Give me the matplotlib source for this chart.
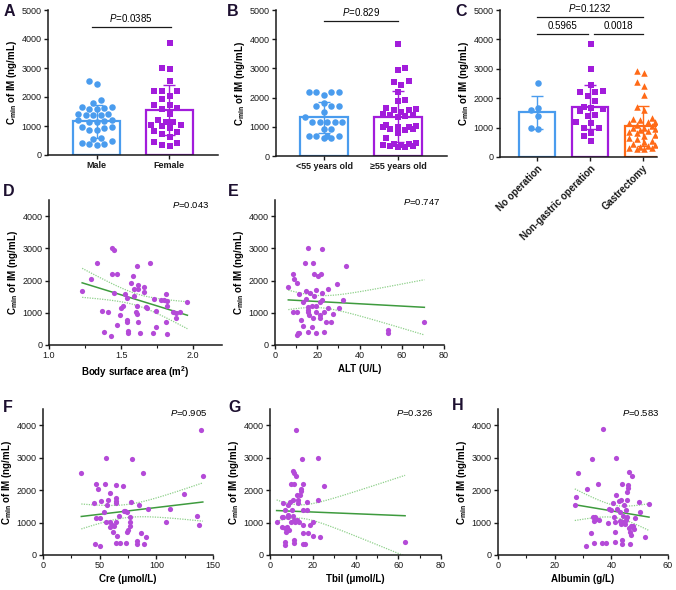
import numpy as np
import matplotlib
matplotlib.use('Agg')
import matplotlib.pyplot as plt

plt.rcParams['font.family'] = ['Liberation Sans', 'DejaVu Sans']
plt.rcParams['mathtext.fontset'] = 'custom'
plt.rcParams['mathtext.rm'] = 'Liberation Sans'
plt.rcParams['mathtext.it'] = 'Liberation Sans:italic'
plt.rcParams['mathtext.bf'] = 'Liberation Sans:bold'

# ---- bar panels: individual values, mean, SD ----
sex_groups = ['Male', 'Female']
male = [2560, 2440, 1880, 1800, 1640, 1620, 1580, 1600, 1640, 1400, 1380, 1380, 1420, 1380,
        1200, 1150, 1180, 1150, 1200, 950, 920, 960, 850, 850, 600, 560, 480, 380, 350, 380, 400]
female = [3860, 3000, 2950, 2540, 2200, 2200, 2200, 2040, 1920, 1720, 1720, 1620, 1600, 1420,
          1200, 1150, 1150, 1050, 1020, 1000, 940, 820, 780, 740, 620, 440, 400, 360, 320]
sex_mean = [1160, 1560]
sex_sd = [580, 870]

age_groups = ['<55 years old', '≥55 years old']
young = [2200, 2200, 2200, 2200, 2080, 1800, 1700, 1700, 1700, 1520, 1330, 1150, 1150, 1150,
         1150, 1150, 920, 920, 700, 700, 700, 700, 600, 600]
old = [3850, 3000, 2950, 2560, 2540, 2440, 2200, 1920, 1900, 1640, 1600, 1580, 1560, 1520, 1450,
       1420, 1400, 1380, 1350, 1050, 1020, 1000, 1000, 980, 940, 920, 900, 800, 620, 440, 420,
       400, 380, 360, 350, 340, 320, 300]
age_mean = [1320, 1350]
age_sd = [540, 870]

op_groups = ['No operation', 'Non-gastric operation', 'Gastrectomy']
no_op = [2530, 1670, 1600, 1410, 1000, 950]
non_gastric = [3860, 3000, 2440, 2250, 2200, 2200, 2060, 1920, 1700, 1680, 1640, 1560, 1420,
               1400, 1200, 1150, 1000, 980, 820, 720, 560]
gastrectomy = [2920, 2860, 2540, 2400, 2120, 1700, 1600, 1320, 1280, 1250, 1200, 1180, 1150,
               1100, 1050, 1000, 980, 950, 920, 900, 850, 800, 750, 700, 650, 600, 560, 500,
               450, 400, 380, 350, 320, 300, 280, 260]
op_mean = [1520, 1700, 1050]
op_sd = [570, 760, 680]

# ---- scatter panels ----
bsa = [1.44, 1.45, 1.33, 1.29, 1.23, 1.44, 1.47, 1.45, 1.37, 1.41, 1.38, 1.43, 1.47, 1.49, 1.50,
       1.51, 1.53, 1.54, 1.54, 1.54, 1.55, 1.55, 1.57, 1.58, 1.59, 1.59, 1.60, 1.61, 1.62, 1.62,
       1.61, 1.61, 1.62, 1.63, 1.66, 1.66, 1.67, 1.68, 1.70, 1.73, 1.72, 1.74, 1.74, 1.78, 1.80,
       1.81, 1.81, 1.82, 1.82, 1.82, 1.86, 1.88, 1.88, 1.91, 1.96]
bsa_c = [3000, 2950, 2530, 2040, 1680, 2190, 2210, 1620, 1050, 1010, 390, 290, 620, 930, 1140,
         1210, 1570, 1450, 780, 700, 430, 360, 1930, 2140, 1730, 1530, 1010, 950, 1860, 1730,
         2450, 1210, 720, 360, 1810, 1650, 1190, 1160, 2560, 1430, 360, 1050, 570, 1400, 1400,
         1580, 700, 350, 1210, 1370, 1010, 850, 980, 1010, 1320]

alt = [6.3, 8.7, 9.1, 10.3, 8.7, 10.3, 10.3, 10.7, 11.4, 11.4, 12.3, 13.4, 13.4, 14.2, 14.5, 14.5,
       15.5, 15.5, 15.8, 15.8, 16.1, 15.5, 16.6, 17.4, 17.7, 18.1, 18.5, 18.3, 18.1, 19.2, 19.4,
       19.2, 19.2, 20.5, 21.6, 21.3, 21.3, 21.3, 22.4, 22.4, 22.4, 23.3, 23.3, 24.0, 25.2, 25.2,
       26.5, 27.3, 29.5, 30.4, 32.3, 33.4, 53.6, 53.6, 70.7]
alt_c = [1810, 2200, 2050, 1910, 1010, 1010, 310, 360, 1570, 360, 780, 600, 1320, 2560, 1690,
         1430, 3000, 1190, 1090, 1010, 930, 390, 1600, 1220, 570, 2530, 2200, 1530, 850, 1710,
         1220, 1010, 360, 2150, 2190, 930, 830, 1340, 1400, 2970, 1620, 1010, 390, 720, 1730,
         1160, 720, 950, 1880, 1140, 1390, 2450, 470, 360, 700]

cre = [33.8, 45.0, 45.6, 47.0, 48.5, 46.5, 50.0, 50.0, 51.5, 53.5, 54.4, 55.9, 55.3, 56.8, 57.4,
       58.8, 59.4, 58.8, 61.2, 61.8, 62.4, 64.1, 64.1, 64.7, 64.7, 64.7, 65.3, 64.7, 67.0, 68.2,
       70.6, 71.2, 72.0, 74.0, 73.0, 74.0, 75.0, 76.5, 77.0, 78.0, 78.8, 77.0, 83.0, 83.0, 84.7,
       86.8, 88.2, 88.8, 91.2, 92.6, 108.8, 111.8, 124.0, 135.9, 137.4, 139.7, 141.0]
cre_c = [2530, 1600, 340, 2190, 2040, 1140, 1140, 290, 1650, 1310, 2190, 3000, 1030, 1550, 1710,
         1910, 1030, 860, 930, 720, 900, 1760, 1670, 2170, 1600, 1030, 590, 380, 1190, 360, 2120,
         1370, 1370, 1340, 380, 720, 770, 1030, 1170, 1620, 2950, 880, 430, 330, 1530, 670, 2530,
         340, 550, 1420, 1030, 1420, 1880, 1190, 930, 3850, 2430]

tbil = [3.1, 5.5, 5.8, 6.0, 6.2, 6.9, 7.0, 7.0, 7.0, 7.3, 8.0, 8.3, 8.6, 8.9, 8.3, 9.4, 9.7, 9.8,
        10.1, 10.6, 10.9, 11.2, 11.4, 10.9, 11.2, 11.4, 11.4, 11.7, 12.0, 12.2, 12.5, 12.5, 12.9,
        13.3, 13.6, 14.0, 14.5, 14.5, 14.8, 15.3, 15.6, 15.6, 15.6, 15.6, 16.4, 17.2, 17.2, 17.9,
        18.7, 20.3, 20.3, 22.3, 22.6, 23.4, 25.4, 63.2]
tbil_c = [1010, 1170, 860, 1600, 1160, 830, 410, 310, 1400, 720, 860, 1170, 1240, 770, 1550, 1620,
          1030, 2200, 1400, 2580, 1710, 2190, 2530, 1190, 1090, 470, 360, 1030, 3850, 2450, 1860,
          1090, 1710, 1600, 1030, 1860, 2020, 1960, 2950, 2190, 1400, 930, 670, 340, 340, 1620,
          1400, 690, 930, 1030, 590, 1710, 3000, 550, 2120, 390]

albumin = [27.1, 27.6, 28.2, 31.2, 31.5, 32.9, 33.3, 33.5, 33.8, 34.1, 34.5, 33.8, 35.3, 35.7,
           36.8, 37.1, 38.2, 38.8, 39.2, 40.0, 40.6, 40.8, 41.2, 41.2, 41.2, 41.5, 41.8, 42.1,
           42.7, 42.9, 43.2, 43.5, 43.5, 43.9, 43.9, 43.9, 44.1, 44.1, 44.4, 44.7, 45.1, 45.3,
           45.5, 45.5, 45.5, 45.9, 45.9, 46.2, 46.2, 46.5, 46.5, 47.1, 47.1, 47.4, 47.6, 47.9,
           48.2, 49.8, 50.2, 51.8, 53.3]
albumin_c = [1550, 1790, 2530, 280, 2040, 690, 2950, 1170, 1060, 1170, 1110, 380, 2200, 1090,
             360, 3880, 360, 1000, 1420, 1400, 1600, 1170, 1030, 720, 410, 3000, 1860, 1420,
             1650, 1310, 1060, 1680, 960, 2190, 470, 340, 1030, 1190, 1550, 960, 1400, 1090,
             1170, 1930, 1710, 2170, 2070, 830, 2550, 720, 340, 880, 620, 2430, 900, 800, 1140,
             1620, 1340, 570, 1580]

# regression lines as drawn (intercept, slope) and P values
fits = {'bsa': (3626, -1379), 'alt': (1422, -3.57), 'cre': (1047, 4.16),
        'tbil': (1378, -2.66), 'albumin': (1946, -14.6)}
p_values = ['0.043', '0.747', '0.905', '0.326', '0.583']

blue = '#4A9CEE'
purple = '#A21CDB'
orange = '#FF6A17'
dot = '#B44AD8'
green = '#3E9B3E'
light_green = '#8ED08A'
ink = '#1a1a1a'

W, H = 676, 590
fig = plt.figure(figsize=(W / 100, H / 100), dpi=100)


def rect(l, r, t, b):
    return [l / W, 1 - b / H, (r - l) / W, (b - t) / H]


def style(ax):
    for s in ['top', 'right']:
        ax.spines[s].set_visible(False)
    for s in ['left', 'bottom']:
        ax.spines[s].set_linewidth(1.1)
        ax.spines[s].set_color(ink)
    ax.tick_params(direction='out', length=3, width=1.0, labelsize=6.5, pad=1.5,
                   colors=ink)
    ax.tick_params(which='minor', direction='out', length=2, width=0.8, colors=ink)
    ax.set_ylabel(r'$\mathbf{C_{min}}$ of IM (ng/mL)', fontsize=7, fontweight='bold', labelpad=2)


def swarm(vals, center, xpx, ypx, half_px, d=7.5):
    # simple beeswarm in pixel space, kept inside the bar
    vals = np.sort(np.asarray(vals, float))
    cand = np.arange(-half_px, half_px + 0.01, d / 2)
    cand = cand[np.argsort(np.abs(cand), kind='stable')]
    placed = []
    xs = []
    for v in vals:
        yp = v * ypx
        best, best_gap = 0.0, -1
        for c in cand:
            gaps = [np.hypot(c - px, yp - py) for px, py in placed if abs(yp - py) < d]
            gap = min(gaps) if gaps else 99
            if gap >= d:
                best = c
                break
            if gap > best_gap:
                best, best_gap = c, gap
        placed.append((best, yp))
        xs.append(center + best / xpx)
    return np.array(xs), vals


def bar_panel(ax, groups, values, means, sds, colors, markers, width, xpx, ypx):
    pos = np.arange(len(groups))
    ax.bar(pos, means, width=width, color='white', edgecolor=colors, linewidth=1.6, zorder=1)
    for i, v in enumerate(values):
        xs, ys = swarm(v, pos[i], xpx, ypx, width * xpx / 2 - 4.5)
        ax.scatter(xs, ys, s=22, color=colors[i], marker=markers[i], linewidths=0, zorder=2)
        ax.errorbar(pos[i], means[i], yerr=sds[i], color=colors[i], capsize=4, elinewidth=1,
                    capthick=1, zorder=3)
    ax.set_ylim(0, 5000)
    ax.set_yticks(range(0, 5001, 1000))
    ax.set_xticks(pos)
    ax.set_xticklabels(groups, fontsize=7, fontweight='bold')
    style(ax)


def bracket(ax, x0, x1, y, label):
    ax.plot([x0, x1], [y, y], color=ink, lw=0.9, clip_on=False)
    ax.text((x0 + x1) / 2, y + 90, label, ha='center', va='bottom', fontsize=7, clip_on=False)


# A
axA = fig.add_axes(rect(48, 218, 10, 155))
bar_panel(axA, sex_groups, [male, female], sex_mean, sex_sd, [blue, purple], ['o', 's'],
          0.64, 72, 145 / 5000)
axA.set_xlim(-0.67, 1.67)
bracket(axA, -0.07, 1.02, 4420, '$P$=0.0385')

# B
axB = fig.add_axes(rect(276, 447, 10, 156))
bar_panel(axB, age_groups, [young, old], age_mean, age_sd, [blue, purple], ['o', 's'],
          0.64, 74, 146 / 5000)
axB.set_xlim(-0.65, 1.66)
bracket(axB, 0, 1.0, 4620, '$P$=0.829')

# C
axC = fig.add_axes(rect(500, 657, 10, 157))
bar_panel(axC, op_groups, [no_op, non_gastric, gastrectomy], op_mean, op_sd,
          [blue, purple, orange], ['o', 's', '^'], 0.68, 53, 147 / 5000)
axC.set_xlim(-0.7, 2.27)
axC.set_xticklabels(op_groups, fontsize=7, fontweight='bold', rotation=45, ha='right',
                    rotation_mode='anchor')
bracket(axC, 0, 2, 4760, '$P$=0.1232')
bracket(axC, 0, 0.97, 4180, '0.5965')
bracket(axC, 1.07, 2, 4180, '0.0018')


def scatter_panel(ax, x, y, fit, xlim, xticks, xminor, xlabel):
    x = np.asarray(x, float)
    y = np.asarray(y, float)
    ax.scatter(x, y, s=14, color=dot, linewidths=0, zorder=3)
    a, b = fit
    n = len(x)
    xm = x.mean()
    sxx = ((x - xm) ** 2).sum()
    s = np.sqrt(((y - (a + b * x)) ** 2).sum() / (n - 2))
    xx = np.linspace(x.min(), x.max(), 100)
    yy = a + b * xx
    se = s * np.sqrt(1 / n + (xx - xm) ** 2 / sxx)
    ax.plot(xx, yy, color=green, lw=1.1, zorder=2)
    ax.plot(xx, yy + 2.0 * se, color=light_green, lw=0.9, ls=(0, (1, 1)), zorder=2)
    ax.plot(xx, yy - 2.0 * se, color=light_green, lw=0.9, ls=(0, (1, 1)), zorder=2)
    ax.set_xlim(*xlim)
    ax.set_xticks(xticks)
    ax.set_xticks(xminor, minor=True)
    ax.set_ylim(0, 4500)
    ax.set_yticks(range(0, 4001, 1000))
    ax.set_xlabel(xlabel, fontsize=7, fontweight='bold', labelpad=3)
    style(ax)


axD = fig.add_axes(rect(49, 222, 200, 345))
scatter_panel(axD, bsa, bsa_c, fits['bsa'], (1.0, 2.2), [1.0, 1.5, 2.0], [1.25, 1.75],
              r'Body surface area (m$^\mathbf{2}$)')
axD.xaxis.set_major_formatter(matplotlib.ticker.FormatStrFormatter('%.1f'))

axE = fig.add_axes(rect(275, 444, 200, 345))
scatter_panel(axE, alt, alt_c, fits['alt'], (0, 80), [0, 20, 40, 60, 80], [10, 30, 50, 70],
              'ALT (U/L)')

axF = fig.add_axes(rect(43, 213, 409, 555))
scatter_panel(axF, cre, cre_c, fits['cre'], (0, 150), [0, 50, 100, 150], [25, 75, 125],
              'Cre (μmol/L)')

axG = fig.add_axes(rect(270, 441, 409, 555))
scatter_panel(axG, tbil, tbil_c, fits['tbil'], (0, 80), [0, 20, 40, 60, 80], [10, 30, 50, 70],
              'Tbil (μmol/L)')

axH = fig.add_axes(rect(498, 668, 409, 555))
scatter_panel(axH, albumin, albumin_c, fits['albumin'], (0, 60), [0, 20, 40, 60], [10, 30, 50],
              'Albumin (g/L)')

# p values for correlations
for (px, py), lab in zip([(209, 205), (440, 202), (207, 413), (433, 413), (659, 413)], p_values):
    fig.text(px / W, 1 - py / H, '$P$=' + lab, ha='right', va='center', fontsize=6.8)

# panel letters
for lx, ly, letter in [(4, 4, 'A'), (227, 4, 'B'), (455, 4, 'C'), (3, 184, 'D'),
                       (228, 184, 'E'), (3, 400, 'F'), (228, 400, 'G'), (452, 398, 'H')]:
    fig.text(lx / W, 1 - ly / H, letter, ha='left', va='top', fontsize=11.5,
             fontweight='bold', color='#1d1030')

fig.savefig('out.png', dpi=100)
